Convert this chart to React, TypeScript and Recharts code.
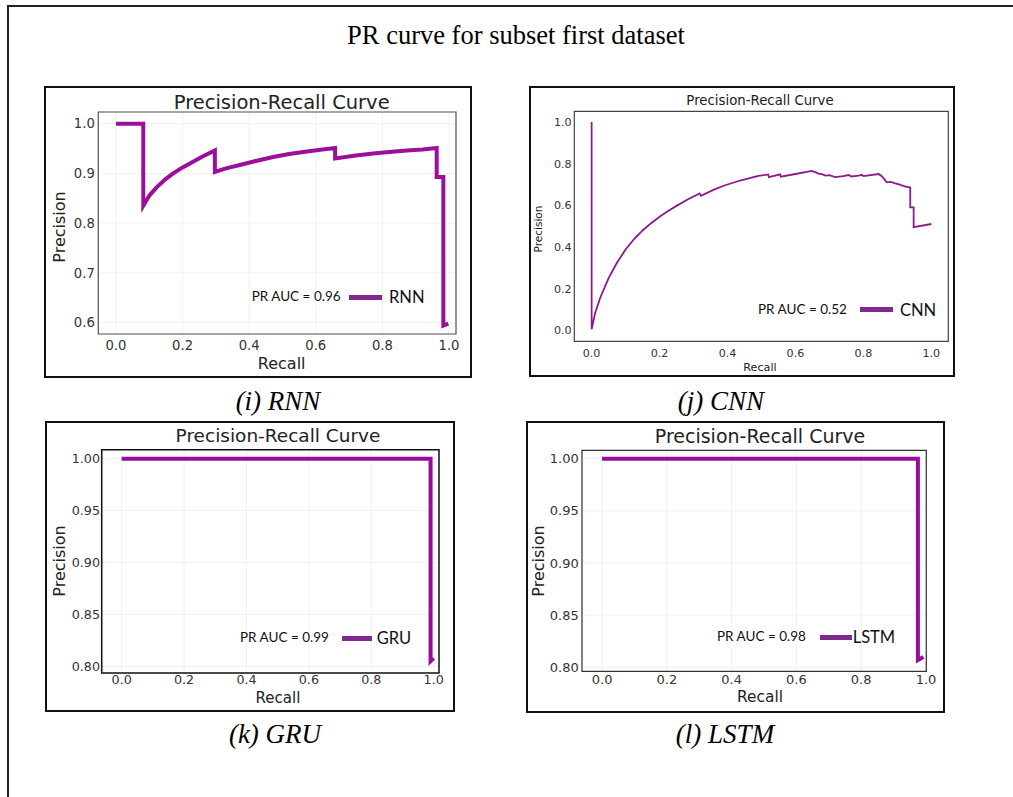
import React from 'react';
import { LineChart, Line, XAxis, YAxis, CartesianGrid, ReferenceArea } from 'recharts';

// values
const rnnRecall = [0, 0.082, 0.082, 0.1, 0.122, 0.15, 0.172, 0.2, 0.222, 0.26, 0.297, 0.297, 0.33, 0.372, 0.42, 0.472, 0.52, 0.573, 0.62, 0.658, 0.658, 0.72, 0.773, 0.82, 0.873, 0.92, 0.963, 0.963, 0.983, 0.983, 0.998];
const rnnPrecision = [1.0, 1.0, 0.835, 0.855, 0.872, 0.889, 0.9, 0.912, 0.92, 0.934, 0.946, 0.903, 0.91, 0.917, 0.925, 0.933, 0.939, 0.944, 0.948, 0.951, 0.93, 0.936, 0.94, 0.943, 0.946, 0.948, 0.951, 0.893, 0.893, 0.594, 0.598];

const cnnRecall = [0, 0, 0.01, 0.025, 0.05, 0.075, 0.1, 0.125, 0.15, 0.175, 0.2, 0.225, 0.25, 0.285, 0.318, 0.322, 0.36, 0.393, 0.44, 0.491, 0.52, 0.522, 0.555, 0.557, 0.6, 0.648, 0.66, 0.668, 0.68, 0.688, 0.7, 0.717, 0.74, 0.757, 0.765, 0.786, 0.796, 0.8, 0.845, 0.855, 0.869, 0.88, 0.894, 0.905, 0.913, 0.925, 0.938, 0.938, 0.948, 0.948, 1.0];
const cnnPrecision = [1.0, 0.005, 0.08, 0.155, 0.25, 0.325, 0.388, 0.438, 0.479, 0.514, 0.545, 0.572, 0.597, 0.63, 0.657, 0.645, 0.675, 0.696, 0.72, 0.741, 0.748, 0.735, 0.748, 0.737, 0.75, 0.765, 0.758, 0.752, 0.748, 0.742, 0.745, 0.735, 0.74, 0.745, 0.738, 0.742, 0.746, 0.74, 0.75, 0.738, 0.71, 0.712, 0.705, 0.7, 0.695, 0.69, 0.685, 0.59, 0.59, 0.495, 0.51];

const gruRecall = [0, 0.99, 0.99, 1.0];
const gruPrecision = [1.0, 1.0, 0.805, 0.808];

const lstmRecall = [0, 0.975, 0.975, 0.992];
const lstmPrecision = [1.0, 1.0, 0.807, 0.81];

const xTicks = [0, 0.2, 0.4, 0.6, 0.8, 1.0];
const rnnYTicks = [0.6, 0.7, 0.8, 0.9, 1.0];
const cnnYTicks = [0, 0.2, 0.4, 0.6, 0.8, 1.0];
const gruYTicks = [0.8, 0.85, 0.9, 0.95, 1.0];

const zip = (r: number[], p: number[]) => r.map((v, i) => ({ recall: v, precision: p[i] }));

const MPL = '"DejaVu Sans", sans-serif';
const CAL = 'Lato, "Open Sans", sans-serif';
const SERIF = '"Liberation Serif", "Times New Roman", serif';

const panels = [
  {
    name: 'RNN', auc: '0.96', data: zip(rnnRecall, rnnPrecision),
    box: { x: 44, y: 86, w: 428, h: 292 },
    plot: { l: 98.3, t: 112, r: 456, b: 334 },
    xDomain: [-0.053, 1.021], yDomain: [0.577, 1.0235], yTicks: rnnYTicks, yDigits: 1,
    tick: 13.2, xTickMargin: 6.5, yTickMargin: 3.5,
    title: { cx: 281.7, cy: 102.7, size: 19.5 },
    ylabel: { cx: 60, cy: 227, size: 16 }, xlabel: { cx: 281.7, cy: 363.7, size: 16 },
    legend: { textX: 251.7, swatchX: 349, swatchW: 33, nameX: 389, cy: 297 },
    color: '#9b0f9b', lineW: 4, frame: '#555', frameW: 1.2, grid: true,
    caption: { text: '(i) RNN', cx: 278, cy: 401 },
  },
  {
    name: 'CNN', auc: '0.52', data: zip(cnnRecall, cnnPrecision),
    box: { x: 529, y: 86, w: 426, h: 291 },
    plot: { l: 574.3, t: 111.3, r: 948.3, b: 341.3 },
    xDomain: [-0.051, 1.05], yDomain: [-0.053, 1.051], yTicks: cnnYTicks, yDigits: 1,
    tick: 11.1, xTickMargin: 7.5, yTickMargin: 2.6,
    title: { cx: 760, cy: 101, size: 13.3 },
    ylabel: { cx: 538, cy: 228.7, size: 10.5 }, xlabel: { cx: 760, cy: 368, size: 11.2 },
    legend: { textX: 758, swatchX: 860, swatchW: 33, nameX: 900, cy: 309.7 },
    color: '#8b1a8b', lineW: 1.8, frame: '#444', frameW: 1.2, grid: false,
    caption: { text: '(j) CNN', cx: 721, cy: 401 },
  },
  {
    name: 'GRU', auc: '0.99', data: zip(gruRecall, gruPrecision),
    box: { x: 45, y: 421, w: 410, h: 291 },
    plot: { l: 101.7, t: 449.7, r: 439, b: 673 },
    xDomain: [-0.064, 1.017], yDomain: [0.7936, 1.0087], yTicks: gruYTicks, yDigits: 2,
    tick: 12.7, xTickMargin: 2.2, yTickMargin: 1.7,
    title: { cx: 278, cy: 436.3, size: 18.5 },
    ylabel: { cx: 60, cy: 561.3, size: 16 }, xlabel: { cx: 278, cy: 698, size: 15 },
    legend: { textX: 240, swatchX: 341.7, swatchW: 30, nameX: 376.7, cy: 638 },
    color: '#9b0b9b', lineW: 4, frame: '#111', frameW: 1.5, grid: true,
    caption: { text: '(k) GRU', cx: 275, cy: 734 },
  },
  {
    name: 'LSTM', auc: '0.98', data: zip(lstmRecall, lstmPrecision),
    box: { x: 526, y: 421, w: 419, h: 292 },
    plot: { l: 582, t: 450.3, r: 926.3, b: 671.3 },
    xDomain: [-0.062, 1.001], yDomain: [0.7962, 1.008], yTicks: gruYTicks, yDigits: 2,
    tick: 13, xTickMargin: 3.8, yTickMargin: 3.3,
    title: { cx: 760, cy: 436.3, size: 19 },
    ylabel: { cx: 538.7, cy: 561.3, size: 16 }, xlabel: { cx: 760, cy: 698, size: 15.4 },
    legend: { textX: 717, swatchX: 819.7, swatchW: 32, nameX: 852.7, cy: 637 },
    color: '#9b0b9b', lineW: 4, frame: '#333', frameW: 1.2, grid: true,
    caption: { text: '(l) LSTM', cx: 725, cy: 734 },
  },
];

const centered = (cx: number, cy: number, extra: React.CSSProperties = {}): React.CSSProperties => ({
  position: 'absolute', left: cx, top: cy, transform: 'translate(-50%, -50%)',
  whiteSpace: 'nowrap', lineHeight: 1, ...extra,
});

function Panel({ cfg }: { cfg: any }) {
  const bw = 2;
  const { box, plot } = cfg;
  const ox = box.x + bw;
  const oy = box.y + bw;
  const W = box.w - 2 * bw;
  const H = box.h - 2 * bw;
  const lg = cfg.legend;
  return (
    <>
      <div style={{ position: 'absolute', left: box.x, top: box.y, width: box.w, height: box.h, border: `${bw}px solid #111`, boxSizing: 'border-box', background: '#fff' }}>
        <LineChart width={W} height={H} data={cfg.data} margin={{ top: plot.t - oy, right: ox + W - plot.r, bottom: 0, left: 0 }}>
          {cfg.grid && <CartesianGrid stroke="#f0f0f0" strokeWidth={1} />}
          <XAxis type="number" dataKey="recall" domain={cfg.xDomain} ticks={xTicks} allowDataOverflow interval={0}
            height={oy + H - plot.b} axisLine={false} tickLine={false} tickSize={0} tickMargin={cfg.xTickMargin}
            tick={{ fontSize: cfg.tick, fill: '#333', fontFamily: MPL }} tickFormatter={(v: number) => v.toFixed(1)} />
          <YAxis type="number" domain={cfg.yDomain} ticks={cfg.yTicks} allowDataOverflow interval={0}
            width={plot.l - ox} axisLine={false} tickLine={false} tickSize={0} tickMargin={cfg.yTickMargin}
            tick={{ fontSize: cfg.tick, fill: '#333', fontFamily: MPL }} tickFormatter={(v: number) => v.toFixed(cfg.yDigits)} />
          <ReferenceArea x1={cfg.xDomain[0]} x2={cfg.xDomain[1]} y1={cfg.yDomain[0]} y2={cfg.yDomain[1]}
            fill="none" fillOpacity={0} stroke={cfg.frame} strokeWidth={cfg.frameW} ifOverflow="visible" />
          <Line type="linear" dataKey="precision" stroke={cfg.color} strokeWidth={cfg.lineW} dot={false}
            activeDot={false} isAnimationActive={false} />
        </LineChart>
      </div>
      <div style={centered(cfg.title.cx, cfg.title.cy, { fontFamily: MPL, fontSize: cfg.title.size, color: '#222' })}>
        Precision-Recall Curve
      </div>
      <div style={centered(cfg.ylabel.cx, cfg.ylabel.cy, { fontFamily: MPL, fontSize: cfg.ylabel.size, color: '#222', transform: 'translate(-50%, -50%) rotate(-90deg)' })}>
        Precision
      </div>
      <div style={centered(cfg.xlabel.cx, cfg.xlabel.cy, { fontFamily: MPL, fontSize: cfg.xlabel.size, color: '#222' })}>
        Recall
      </div>
      <div style={{ position: 'absolute', left: lg.textX, top: lg.cy, transform: 'translateY(-50%)', fontFamily: CAL, fontSize: 13.5, lineHeight: 1, whiteSpace: 'nowrap', color: '#111', background: '#fff' }}>
        PR AUC = {cfg.auc}
      </div>
      <div style={{ position: 'absolute', left: lg.swatchX, top: lg.cy - 2.5, width: lg.swatchW, height: 5, background: '#7f2a8c' }} />
      <div style={{ position: 'absolute', left: lg.nameX, top: lg.cy, transform: 'translateY(-50%)', fontFamily: CAL, fontSize: 16.5, lineHeight: 1, whiteSpace: 'nowrap', color: '#111' }}>
        {cfg.name}
      </div>
      <div style={centered(cfg.caption.cx, cfg.caption.cy, { fontFamily: SERIF, fontStyle: 'italic', fontSize: 27, color: '#000' })}>
        {cfg.caption.text}
      </div>
    </>
  );
}

export default function App() {
  return (
    <div style={{ position: 'absolute', left: 0, top: 0, width: 1013, height: 797, overflow: 'hidden', background: '#fff' }}>
      <div style={{ position: 'absolute', left: 7, top: 5, width: 1030, height: 820, border: '2px solid #222', boxSizing: 'border-box' }} />
      <div style={centered(516, 35, { fontFamily: SERIF, fontSize: 26.5, color: '#000' })}>
        PR curve for subset first dataset
      </div>
      {panels.map((p) => (
        <Panel key={p.name} cfg={p} />
      ))}
    </div>
  );
}
